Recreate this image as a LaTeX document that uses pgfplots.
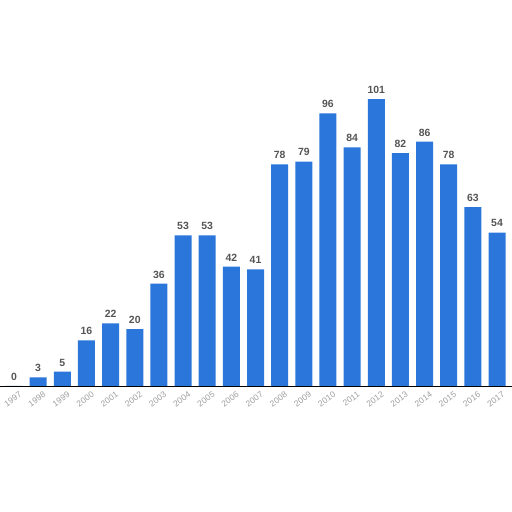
\documentclass[border=0pt]{standalone}
\usepackage{pgfplots}
\pgfplotsset{compat=1.18}
\usepackage{fontspec}
\setmainfont{Liberation Sans}
\definecolor{barblue}{HTML}{2A76DA}
\definecolor{lblgray}{HTML}{555555}
\begin{document}
\begin{tikzpicture}
  \begin{axis}[
      scale only axis,
      width=512bp, height=512bp,
      ybar, bar width=17bp,
      xmin=-0.58, xmax=20.62,
      ymin=-44.4, ymax=135.9,
      axis x line=middle,
      axis y line=none,
      x axis line style={-, black, line width=0.8pt},
      xtick=data,
      xticklabels={1997,1998,1999,2000,2001,2002,2003,2004,2005,2006,2007,2008,2009,2010,2011,2012,2013,2014,2015,2016,2017},
      xticklabel style={rotate=35, anchor=north east, inner sep=1bp, font=\fontsize{8.5}{9}\selectfont, text=black!38, yshift=-6bp, xshift=2bp},
      major tick length=0pt,
      ytick={20,40,60,80,100},
      yticklabels={},
      ymajorgrids,
      grid style={densely dotted, black!25},
      nodes near coords={\pgfmathprintnumber[assume math mode=true]{\pgfplotspointmeta}},
      every node near coord/.append style={font=\bfseries\fontsize{10.5}{12}\selectfont, text=lblgray, yshift=2bp},
      clip=false,
    ]
    \addplot[fill=barblue, draw=none] coordinates {
      (0,0) (1,3) (2,5) (3,16) (4,22) (5,20) (6,36) (7,53) (8,53) (9,42)
      (10,41) (11,78) (12,79) (13,96) (14,84) (15,101) (16,82) (17,86)
      (18,78) (19,63) (20,54)
    };
  \end{axis}
  \pgfresetboundingbox
  \path[use as bounding box] (current axis.south west) rectangle (current axis.north east);
\end{tikzpicture}
\end{document}
